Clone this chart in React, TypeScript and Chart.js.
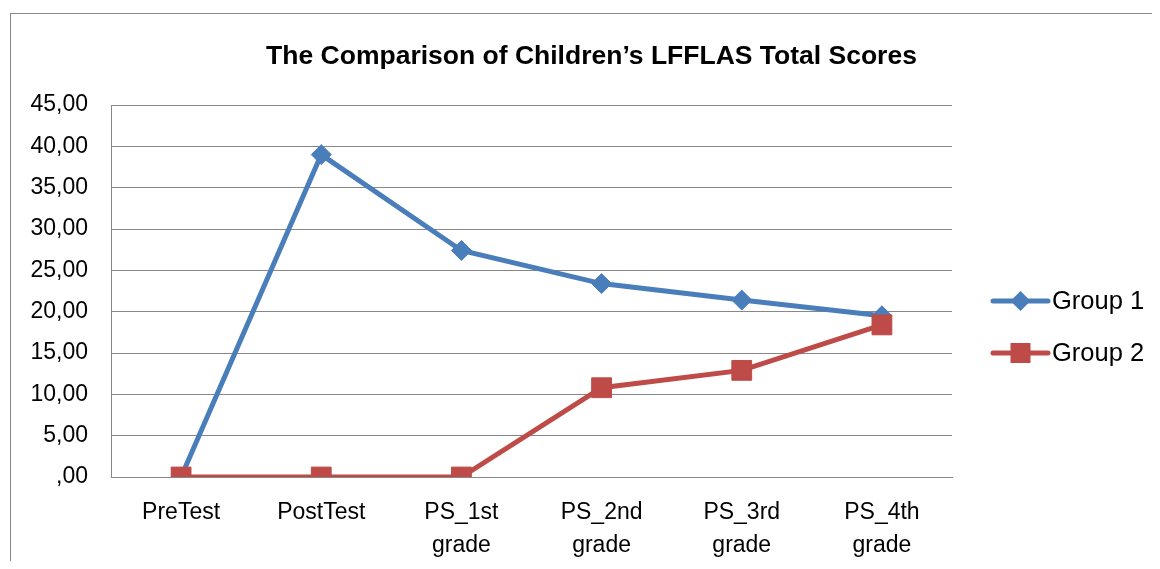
import React, { useEffect, useRef } from "react";
import { Chart, registerables } from "chart.js";

Chart.register(...registerables);

const TITLE = "The Comparison of Children\u2019s LFFLAS Total Scores";
const categories: string[][] = [
  ["PreTest"],
  ["PostTest"],
  ["PS_1st", "grade"],
  ["PS_2nd", "grade"],
  ["PS_3rd", "grade"],
  ["PS_4th", "grade"],
];
const group1: number[] = [0, 39, 27.4, 23.4, 21.4, 19.5];
const group2: number[] = [0, 0, 0, 10.8, 12.9, 18.4];
const seriesNames: string[] = ["Group 1", "Group 2"];
const yTickLabels: string[] = [",00", "5,00", "10,00", "15,00", "20,00", "25,00", "30,00", "35,00", "40,00", "45,00"];

const BLUE = "#4A7EBB";
const RED = "#BE4B48";
const GRID = "#878787";
const FONT = '"Liberation Sans", Arial, sans-serif';

export default function App() {
  const ref = useRef<HTMLCanvasElement | null>(null);

  useEffect(() => {
    if (!ref.current) return;

    const overlay = {
      id: "overlay",
      afterDraw(chart: any) {
        const { ctx, chartArea, width } = chart;
        ctx.save();
        // title
        ctx.fillStyle = "#000";
        ctx.font = `bold 26.5px ${FONT}`;
        ctx.textAlign = "center";
        ctx.textBaseline = "middle";
        ctx.fillText(TITLE, width / 2 + 9, 43);
        // legend
        const styles = [
          { color: BLUE, shape: "diamond" },
          { color: RED, shape: "square" },
        ];
        const x0 = chartArea.right + 41;
        const x1 = x0 + 55;
        const mx = (x0 + x1) / 2;
        seriesNames.forEach((name, i) => {
          const y = 287 + i * 52;
          const s = styles[i];
          ctx.strokeStyle = s.color;
          ctx.lineWidth = 5;
          ctx.lineCap = "round";
          ctx.beginPath();
          ctx.moveTo(x0, y);
          ctx.lineTo(x1, y);
          ctx.stroke();
          ctx.fillStyle = s.color;
          ctx.beginPath();
          if (s.shape === "diamond") {
            ctx.moveTo(mx - 10, y);
            ctx.lineTo(mx, y - 10);
            ctx.lineTo(mx + 10, y);
            ctx.lineTo(mx, y + 10);
            ctx.closePath();
          } else {
            ctx.rect(mx - 10, y - 10, 20, 20);
          }
          ctx.fill();
          ctx.fillStyle = "#000";
          ctx.font = `25.5px ${FONT}`;
          ctx.textAlign = "left";
          ctx.textBaseline = "middle";
          ctx.fillText(name, x1 + 4, y + 1);
        });
        ctx.restore();
      },
    };

    const chart = new Chart(ref.current, {
      type: "line",
      data: {
        labels: categories,
        datasets: [
          {
            label: seriesNames[0],
            data: group1,
            borderColor: BLUE,
            backgroundColor: BLUE,
            borderWidth: 5,
            pointStyle: "rectRot",
            pointRadius: 10,
            pointBorderWidth: 1,
            pointBackgroundColor: BLUE,
            pointBorderColor: BLUE,
            tension: 0,
            order: 1,
          },
          {
            label: seriesNames[1],
            data: group2,
            borderColor: RED,
            backgroundColor: RED,
            borderWidth: 5,
            pointStyle: "rect",
            pointRadius: 14,
            pointBorderWidth: 1,
            pointBackgroundColor: RED,
            pointBorderColor: RED,
            tension: 0,
            order: 0,
          },
        ],
      },
      options: {
        animation: false,
        responsive: false,
        maintainAspectRatio: false,
        layout: { padding: { top: 91, right: 202, left: 0, bottom: 0 } },
        plugins: {
          legend: { display: false },
          title: { display: false },
          tooltip: { enabled: false },
        },
        scales: {
          x: {
            offset: true,
            grid: { display: false, drawTicks: false },
            border: { display: true, color: GRID, width: 1 },
            ticks: {
              color: "#000",
              font: { family: FONT, size: 23, lineHeight: 1.4 },
              padding: 20,
              maxRotation: 0,
              autoSkip: false,
            },
            afterFit(scale: any) {
              scale.height = 89;
            },
          },
          y: {
            min: 0,
            max: 45,
            grid: { color: GRID, lineWidth: 1, drawTicks: false },
            border: { display: true, color: GRID, width: 1 },
            ticks: {
              stepSize: 5,
              color: "#000",
              font: { family: FONT, size: 23 },
              padding: 23,
              callback: (_v: any, i: number) => yTickLabels[i],
            },
            afterFit(scale: any) {
              scale.width = 100;
            },
          },
        },
      },
      plugins: [overlay],
    });
    return () => chart.destroy();
  }, []);

  return (
    <div
      style={{
        position: "relative",
        left: 2,
        top: 5,
        width: 1144,
        height: 553,
        borderTop: "1px solid #888",
        borderLeft: "1px solid #888",
        boxSizing: "border-box",
        overflow: "hidden",
      }}
    >
      <canvas ref={ref} width={1143} height={552} style={{ display: "block" }} />
    </div>
  );
}
